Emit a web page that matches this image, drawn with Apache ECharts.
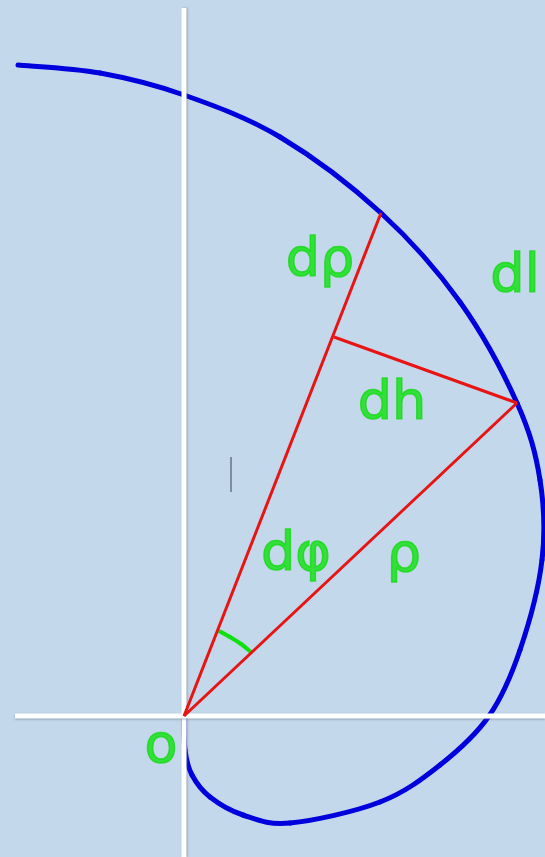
<!DOCTYPE html>
<html>
<head>
<meta charset="utf-8">
<script src="https://cdn.jsdelivr.net/npm/echarts@6/dist/echarts.min.js"></script>
<style>
  html, body { margin: 0; padding: 0; background: #c4d8eb; }
  #chart { width: 545px; height: 857px; }
</style>
</head>
<body>
<div id="chart"></div>
<script>
// coordinates relative to the pole O, y pointing up
const curve = [
  [-166, 651], [-84, 643], [0, 621], [96, 579], [197, 503], [276, 414],
  [333, 313], [356, 236], [358, 156], [336, 66], [305, 0], [256, -49],
  [196, -86], [106, -107], [59, -99], [26, -81], [8, -59], [1, -34], [0, 0]
]
const vAxis = [[0, 708], [0, -141]]
const hAxis = [[-169, 0], [361, 0]]
const rayDRho = [[0, 0], [197, 503]]
const rayRho = [[0, 0], [333, 313]]
const dhLine = [[150, 379], [333, 313]]
const angleArc = [[35, 85], [46, 79], [57, 72], [67, 64]]
const cursorMark = [[47, 259], [47, 224]]
const labels = [
  [136, 454, 'dρ'],
  [331, 438, 'dl'],
  [208, 311, 'dh'],
  [112, 160, 'dφ'],
  [220, 159, 'ρ'],
  [-23, -32, 'o']
]

const myChart = echarts.init(document.getElementById('chart'))

const seg = (data, color, width, extra) => Object.assign({
  type: 'line',
  data,
  symbol: 'none',
  silent: true,
  clip: false,
  lineStyle: { color, width }
}, extra || {})

// catmull-rom through the read points, drawn as bezier pieces
const spline = (pts, color, width) => ({
  type: 'custom',
  silent: true,
  clip: false,
  data: pts,
  renderItem: (params, api) => {
    if (params.dataIndex !== 0) return null
    const p = pts.map(d => api.coord(d))
    const children = []
    for (let i = 0; i < p.length - 1; i++) {
      const p0 = p[Math.max(i - 1, 0)]
      const p1 = p[i]
      const p2 = p[i + 1]
      const p3 = p[Math.min(i + 2, p.length - 1)]
      children.push({
        type: 'bezierCurve',
        shape: {
          x1: p1[0], y1: p1[1],
          cpx1: p1[0] + (p2[0] - p0[0]) / 6, cpy1: p1[1] + (p2[1] - p0[1]) / 6,
          cpx2: p2[0] - (p3[0] - p1[0]) / 6, cpy2: p2[1] - (p3[1] - p1[1]) / 6,
          x2: p2[0], y2: p2[1]
        },
        style: { stroke: color, lineWidth: width, fill: null, lineCap: 'round' }
      })
    }
    return { type: 'group', children }
  }
})

const option = {
  backgroundColor: '#c4d8eb',
  animation: false,
  grid: { left: 0, right: 0, top: 0, bottom: 0 },
  xAxis: { type: 'value', min: -184, max: 361, show: false },
  yAxis: { type: 'value', min: -141, max: 716, show: false },
  series: [
    seg(vAxis, '#ffffff', 5, { lineStyle: { color: '#ffffff', width: 5, shadowColor: 'rgba(90,100,120,0.5)', shadowBlur: 2, shadowOffsetX: 1 } }),
    seg(hAxis, '#ffffff', 5, { lineStyle: { color: '#ffffff', width: 5, shadowColor: 'rgba(90,100,120,0.5)', shadowBlur: 2, shadowOffsetY: 1 } }),
    seg(cursorMark, '#7d8da0', 2),
    seg(rayDRho, '#e81414', 3),
    seg(rayRho, '#e81414', 3),
    seg(dhLine, '#e81414', 3),
    spline(curve, '#0000dd', 5),
    spline(angleArc, '#10e010', 4),
    {
      type: 'scatter',
      silent: true,
      symbolSize: 0,
      data: labels,
      label: {
        show: true,
        position: 'inside',
        formatter: p => p.data[2],
        fontFamily: 'DejaVu Sans',
        fontSize: 54,
        color: '#10e010',
        textBorderColor: '#18d818',
        textBorderWidth: 1.5
      }
    }
  ]
}
myChart.setOption(option)
window.addEventListener('resize', () => myChart.resize())
</script>
</body>
</html>
